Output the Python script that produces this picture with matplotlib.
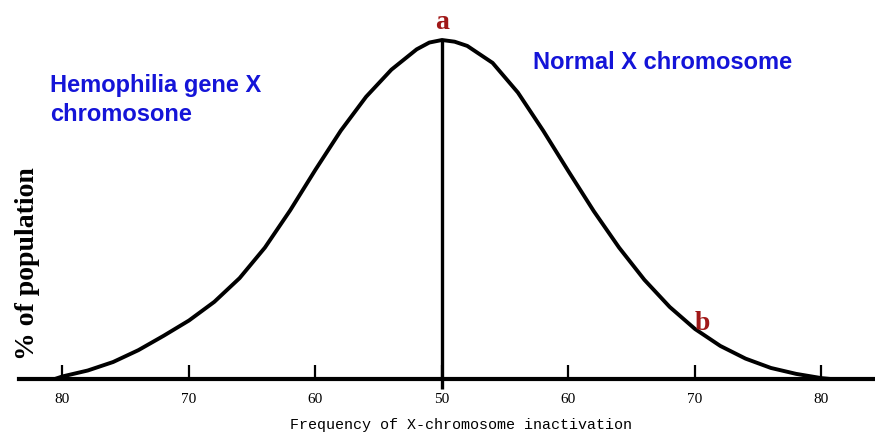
import matplotlib
matplotlib.use("Agg")
import matplotlib.pyplot as plt

# courbe : position sur l'axe (unités de fréquence) et % de population
freq_pos = [19.4, 20, 22, 24, 26, 28, 30, 32, 34, 36, 38, 40, 42, 44, 46, 48, 49,
            50, 51, 52, 54, 56, 58, 60, 62, 64, 66, 68, 70, 72, 74, 76, 78, 80, 80.7]
population = [0.00, 0.03, 0.10, 0.20, 0.34, 0.51, 0.69, 0.91, 1.19, 1.55, 1.99,
              2.47, 2.93, 3.33, 3.65, 3.89, 3.97, 4.00, 3.98, 3.93, 3.73, 3.38,
              2.93, 2.45, 1.98, 1.55, 1.17, 0.85, 0.59, 0.39, 0.24, 0.13, 0.06,
              0.01, 0.00]

tick_pos = [20, 30, 40, 50, 60, 70, 80]
tick_labels = ['80', '70', '60', '50', '60', '70', '80']

fig = plt.figure(figsize=(8.75, 4.36), dpi=100)
ax = fig.add_axes([0, 0, 1, 1])

ax.plot(freq_pos, population, color='black', lw=2.8,
        solid_capstyle='round', solid_joinstyle='round')

# ligne verticale au sommet (a)
i_max = population.index(max(population))
x_peak, y_peak = freq_pos[i_max], population[i_max]
ax.vlines(x_peak, -0.12, y_peak, color='black', lw=2.4)

ax.set_xlim(15.06, 84.23)
ax.set_ylim(-0.673, 4.472)

for s in ['left', 'top', 'right']:
    ax.spines[s].set_visible(False)
ax.spines['bottom'].set_position(('data', 0))
ax.spines['bottom'].set_bounds(16.6, 84.3)
ax.spines['bottom'].set_linewidth(3)
ax.set_yticks([])
ax.set_xticks(tick_pos)
ax.set_xticklabels(tick_labels, fontfamily='Liberation Serif', fontsize=11)
ax.tick_params(axis='x', direction='in', length=10, width=1.6, pad=10)

ax.text(0.527, 0.025, 'Frequency of X-chromosome inactivation', transform=ax.transAxes,
        ha='center', va='center', fontfamily='Liberation Mono', fontsize=10.8)
ax.text(0.032, 0.395, '% of population', transform=ax.transAxes, rotation=90,
        ha='center', va='center', fontfamily='Liberation Serif', fontweight='bold',
        fontsize=20)

blue = '#1414d8'
ax.text(19.0, 3.60, 'Hemophilia gene X\nchromosone', ha='left', va='top', color=blue,
        fontfamily='Liberation Sans', fontweight='bold', fontsize=17,
        linespacing=1.35)
ax.text(57.2, 3.73, 'Normal X chromosome', ha='left', va='center', color=blue,
        fontfamily='Liberation Sans', fontweight='bold', fontsize=17)

red = '#a01818'
ax.text(x_peak, 4.21, 'a', ha='center', va='center', color=red,
        fontfamily='Liberation Serif', fontweight='bold', fontsize=20)
ax.text(70.55, 0.66, 'b', ha='center', va='center', color=red,
        fontfamily='Liberation Serif', fontweight='bold', fontsize=20)

fig.savefig('out.png', dpi=100)
